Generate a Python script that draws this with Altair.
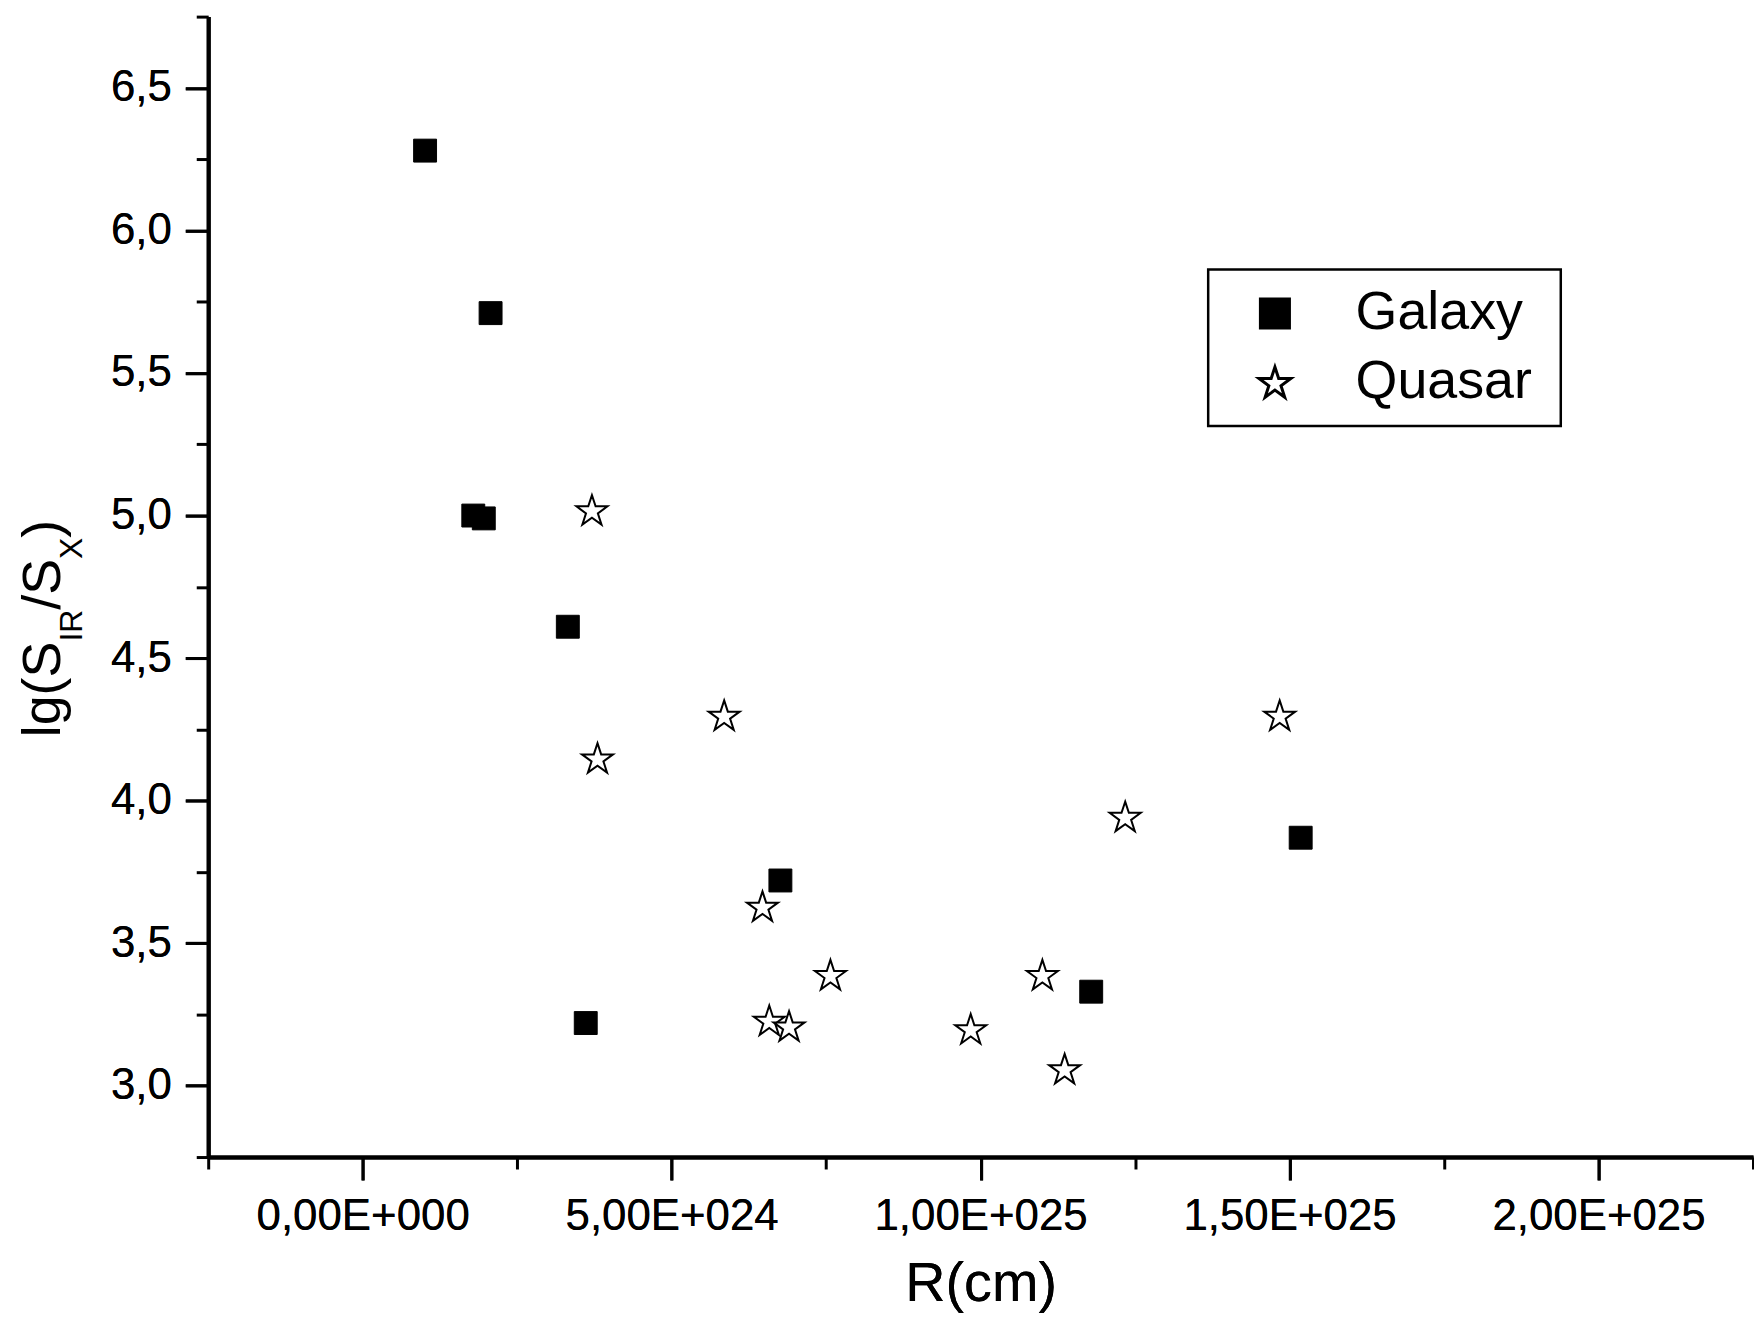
import math
import altair as alt
import pandas as pd

# ---------------- data ----------------
series_names = ["Galaxy", "Quasar"]

galaxy_r = [1.01e24, 2.07e24, 1.79e24, 1.96e24, 3.32e24, 3.61e24, 6.76e24, 1.179e25, 1.518e25]
galaxy_lg = [6.28, 5.71, 5.00, 4.99, 4.61, 3.22, 3.72, 3.33, 3.87]

quasar_r = [3.71e24, 3.80e24, 5.85e24, 6.47e24, 6.58e24, 6.90e24, 7.57e24, 9.84e24,
            1.100e25, 1.136e25, 1.234e25, 1.484e25]
quasar_lg = [5.02, 4.15, 4.30, 3.63, 3.23, 3.21, 3.39, 3.20, 3.39, 3.06, 3.945, 4.30]

x_domain = [-2.5e24, 2.25e25]
x_major = [0.0, 5e24, 1e25, 1.5e25, 2e25]
x_major_labels = ["0,00E+000", "5,00E+024", "1,00E+025", "1,50E+025", "2,00E+025"]
x_minor = [-2.5e24, 2.5e24, 7.5e24, 1.25e25, 1.75e25, 2.25e25]

y_domain = [2.75, 6.75]
y_major = [3.0, 3.5, 4.0, 4.5, 5.0, 5.5, 6.0, 6.5]
y_minor = [2.75, 3.25, 3.75, 4.25, 4.75, 5.25, 5.75, 6.25, 6.75]

x_title = "R(cm)"
# y title pieces: (text, is_subscript)
y_title_parts = [("lg(S", False), ("IR", True), ("/S", False), ("X", True), (")", False)]

df = pd.DataFrame({
    "R": galaxy_r + quasar_r,
    "lg": galaxy_lg + quasar_lg,
    "type": [series_names[0]] * len(galaxy_r) + [series_names[1]] * len(quasar_r),
})

# ---------------- styling / layout ----------------
FONT = "Liberation Sans"
W, H = 1551, 1145
PAD = {"left": 201, "top": 6, "right": 1, "bottom": 170}

# five-pointed star symbol (unit path, bbox centred)
R_OUT, R_IN = 1.15, 0.44
pts = []
for k in range(10):
    ang = math.radians(-90 + 36 * k)
    r = R_OUT if k % 2 == 0 else R_IN
    pts.append((r * math.cos(ang), r * math.sin(ang)))
shift = (R_OUT - R_OUT * math.cos(math.radians(36))) / 2
star_path = "M" + "L".join(f"{px:.4f},{py + shift:.4f}" for px, py in pts) + "Z"

xscale = alt.Scale(domain=x_domain, nice=False, zero=False)
yscale = alt.Scale(domain=y_domain, nice=False, zero=False)

x_label_expr = " : ".join(
    f"datum.value == {v!r} ? '{lab}'" for v, lab in zip(x_major, x_major_labels)
) + " : ''"

major_common = dict(grid=False, domain=True, domainColor="black", domainWidth=4,
                    ticks=True, tickColor="black", tickWidth=3, tickSize=23,
                    labelFont=FONT, labelFontSize=44, labelColor="black", labelLimit=0)

x_axis_major = alt.Axis(orient="bottom", values=x_major, labelExpr=x_label_expr,
                        labelPadding=15, title=x_title, titleFont=FONT,
                        titleFontSize=56, titleFontWeight="normal", titleColor="black",
                        titlePadding=18, labelOverlap=False, **major_common)
y_axis_major = alt.Axis(orient="left", values=y_major,
                        labelExpr="replace(format(datum.value, '.1f'), '.', ',')",
                        labelPadding=14, title=None, **major_common)

minor_common = dict(grid=False, domain=False, labels=False, title=None,
                    ticks=True, tickColor="black", tickWidth=3, tickSize=12)
x_axis_minor = alt.Axis(orient="bottom", values=x_minor, **minor_common)
y_axis_minor = alt.Axis(orient="left", values=y_minor, **minor_common)

# a blank title placed on the right widens the frame like the original's
legend = alt.Legend(title="\u00a0", titleOrient="right", titleFontSize=10, titlePadding=12,
                    orient="none", legendX=1004, legendY=254,
                    padding=17, rowPadding=15, symbolSize=850,
                    symbolStrokeColor="black", symbolStrokeWidth=3,
                    symbolOffset=23, labelOffset=54, labelLimit=0,
                    labelFont=FONT, labelFontSize=54, labelColor="black",
                    strokeColor="black")

shape_enc = alt.Shape("type:N", scale=alt.Scale(domain=series_names, range=["square", star_path]),
                      legend=legend)
fill_enc = alt.Fill("type:N", scale=alt.Scale(domain=series_names, range=["black", "white"]),
                    legend=legend)
stroke_enc = alt.Stroke("type:N", scale=alt.Scale(domain=series_names, range=["black", "black"]),
                        legend=legend)

base = alt.Chart(df)

minor_layer = base.mark_point(opacity=0).encode(
    x=alt.X("R:Q", scale=xscale, axis=x_axis_minor),
    y=alt.Y("lg:Q", scale=yscale, axis=y_axis_minor),
)

galaxy_layer = base.transform_filter(
    alt.datum.type == series_names[0]
).mark_point(filled=True, strokeWidth=1, opacity=1, size=529).encode(
    x=alt.X("R:Q", scale=xscale, axis=x_axis_major),
    y=alt.Y("lg:Q", scale=yscale, axis=y_axis_major),
    shape=shape_enc, fill=fill_enc, stroke=stroke_enc,
)

quasar_layer = base.transform_filter(
    alt.datum.type == series_names[1]
).mark_point(filled=True, strokeWidth=2, opacity=1, size=810).encode(
    x=alt.X("R:Q", scale=xscale, axis=x_axis_major),
    y=alt.Y("lg:Q", scale=yscale, axis=y_axis_major),
    shape=shape_enc, fill=fill_enc, stroke=stroke_enc,
)

# ---------------- rotated y title with subscripts ----------------
ARIAL_W = {"l": 0.222, "g": 0.556, "(": 0.333, "S": 0.667, "I": 0.278, "R": 0.722,
           "/": 0.278, "X": 0.667, ")": 0.333}
MAIN_FS, SUB_FS = 54, 32
base_x = -149          # baseline of the rotated text, relative to plot left
sub_x = base_x + 22    # subscript baseline shift
cur_y = 723.5          # start (bottom) of the title, relative to plot top
title_layers = []
for txt, is_sub in y_title_parts:
    fs = SUB_FS if is_sub else MAIN_FS
    title_layers.append(
        alt.Chart(alt.InlineData(values=[{"k": 0}])).mark_text(
            text=txt, angle=270, align="left", baseline="alphabetic",
            font=FONT, fontSize=fs, color="black",
        ).encode(x=alt.value(sub_x if is_sub else base_x), y=alt.value(cur_y))
    )
    cur_y -= sum(ARIAL_W[c] for c in txt) * fs

chart = alt.layer(minor_layer, galaxy_layer, quasar_layer, *title_layers).resolve_axis(
    x="independent", y="independent"
).properties(
    width=W, height=H, padding=PAD,
    autosize=alt.AutoSizeParams(type="none"),
    background="white",
).configure_view(stroke=None).configure_legend(strokeWidth=2.5)

chart.save("out.html", embed_options={"renderer": "svg", "actions": False})
